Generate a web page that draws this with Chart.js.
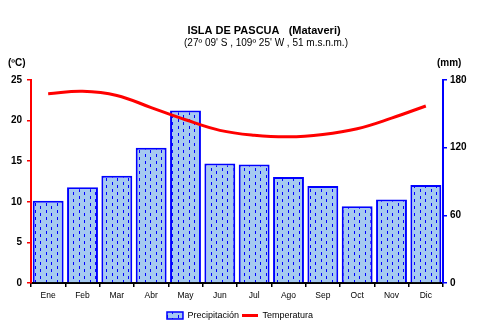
<!DOCTYPE html>
<html>
<head>
<meta charset="utf-8">
<script src="https://cdn.jsdelivr.net/npm/chart.js@4"></script>
<style>
  body { margin: 0; background: #fff; }
  #wrap { width: 480px; height: 330px; }
</style>
</head>
<body>
<div id="wrap"><canvas id="chart" width="480" height="330"></canvas></div>
<script>
const months = ["Ene", "Feb", "Mar", "Abr", "May", "Jun", "Jul", "Ago", "Sep", "Oct", "Nov", "Dic"];
const precipitation = [73, 85, 95, 120, 153, 106, 105, 94, 86, 68, 74, 87]; // mm
const temperature = [23.3, 23.6, 23.1, 21.6, 20.1, 18.8, 18.2, 18.0, 18.3, 19.0, 20.3, 21.8]; // ºC
const tempTicks = [0, 5, 10, 15, 20, 25];
const rainTicks = [0, 60, 120, 180];

// light blue fill with little staggered blue dashes, like the original
function makePattern() {
    const c = document.createElement("canvas");
    c.width = 11;
    c.height = 7;
    const g = c.getContext("2d");
    g.fillStyle = "#a6caf0";
    g.fillRect(0, 0, 11, 7);
    g.fillStyle = "#0000ff";
    g.fillRect(2, 0, 1, 3);
    g.fillRect(7, 3, 1, 3);
    return g.createPattern(c, "repeat");
}
const barFill = makePattern();

// title, subtitle and the unit labels over each axis
const headerText = {
    id: "headerText",
    afterDraw(chart) {
        const ctx = chart.ctx;
        ctx.save();
        ctx.fillStyle = "#000";
        ctx.textBaseline = "middle";
        ctx.textAlign = "center";
        ctx.font = "bold 11px Arial, 'Liberation Sans'";
        ctx.fillText("ISLA DE PASCUA   (Mataveri)", 264, 31);
        ctx.font = "10px Arial, 'Liberation Sans'";
        ctx.fillText("(27º 09' S , 109º 25' W , 51 m.s.n.m.)", 266, 43);
        ctx.font = "bold 10px Arial, 'Liberation Sans'";
        ctx.textAlign = "left";
        ctx.fillText("(ºC)", 8, 63);
        ctx.fillText("(mm)", 437, 63);
        ctx.restore();
    }
};

const ctx = document.getElementById("chart").getContext("2d");
new Chart(ctx, {
    type: "bar",
    data: {
        labels: months,
        datasets: [
            {
                type: "bar",
                label: "Precipitación",
                data: precipitation,
                yAxisID: "y1",
                backgroundColor: barFill,
                borderColor: "#0000ff",
                borderWidth: 2,
                barPercentage: 0.9,
                categoryPercentage: 1.0,
                order: 2
            },
            {
                type: "line",
                label: "Temperatura",
                data: temperature,
                yAxisID: "y",
                borderColor: "#ff0000",
                backgroundColor: "#ff0000",
                borderWidth: 3,
                pointRadius: 0,
                tension: 0.4,
                order: 1
            }
        ]
    },
    options: {
        responsive: false,
        animation: false,
        layout: { padding: { top: 80, bottom: 0, left: 0, right: 0 } },
        plugins: {
            tooltip: { enabled: false },
            legend: {
                position: "bottom",
                labels: {
                    color: "#000",
                    font: { family: "Arial, 'Liberation Sans'", size: 9 },
                    usePointStyle: true,
                    pointStyleWidth: 16,
                    boxHeight: 7,
                    padding: 3,
                    generateLabels(chart) {
                        return [
                            { text: "Precipitación", fillStyle: barFill, strokeStyle: "#0000ff", lineWidth: 1.5, pointStyle: "rect", datasetIndex: 0, fontColor: "#000" },
                            { text: "Temperatura", fillStyle: "#ff0000", strokeStyle: "#ff0000", lineWidth: 3, pointStyle: "line", datasetIndex: 1, fontColor: "#000" }
                        ];
                    }
                }
            }
        },
        scales: {
            x: {
                grid: { display: true, drawOnChartArea: false, offset: true, color: "#000", tickLength: 4, lineWidth: 1.5 },
                border: { color: "#000", width: 2 },
                ticks: { color: "#000", font: { family: "Arial, 'Liberation Sans'", size: 8.5 }, padding: 4, maxRotation: 0 },
                afterFit(scale) { scale.height = 25; }
            },
            y: {
                position: "left",
                min: 0,
                max: 25,
                grid: { drawOnChartArea: false, color: "#ff0000", tickLength: 4, lineWidth: 1.5 },
                border: { color: "#ff0000", width: 2 },
                afterBuildTicks(scale) { scale.ticks = tempTicks.map(v => ({ value: v })); },
                ticks: { color: "#000", font: { family: "Arial, 'Liberation Sans'", size: 10, weight: "bold" }, padding: 5 },
                afterFit(scale) { scale.width = 31; }
            },
            y1: {
                position: "right",
                min: 0,
                max: 180,
                grid: { drawOnChartArea: false, color: "#0000ff", tickLength: 4, lineWidth: 1.5 },
                border: { color: "#0000ff", width: 2 },
                afterBuildTicks(scale) { scale.ticks = rainTicks.map(v => ({ value: v })); },
                ticks: { color: "#000", font: { family: "Arial, 'Liberation Sans'", size: 10, weight: "bold" }, padding: 3 },
                afterFit(scale) { scale.width = 37; }
            }
        }
    },
    plugins: [headerText]
});
</script>
</body>
</html>
